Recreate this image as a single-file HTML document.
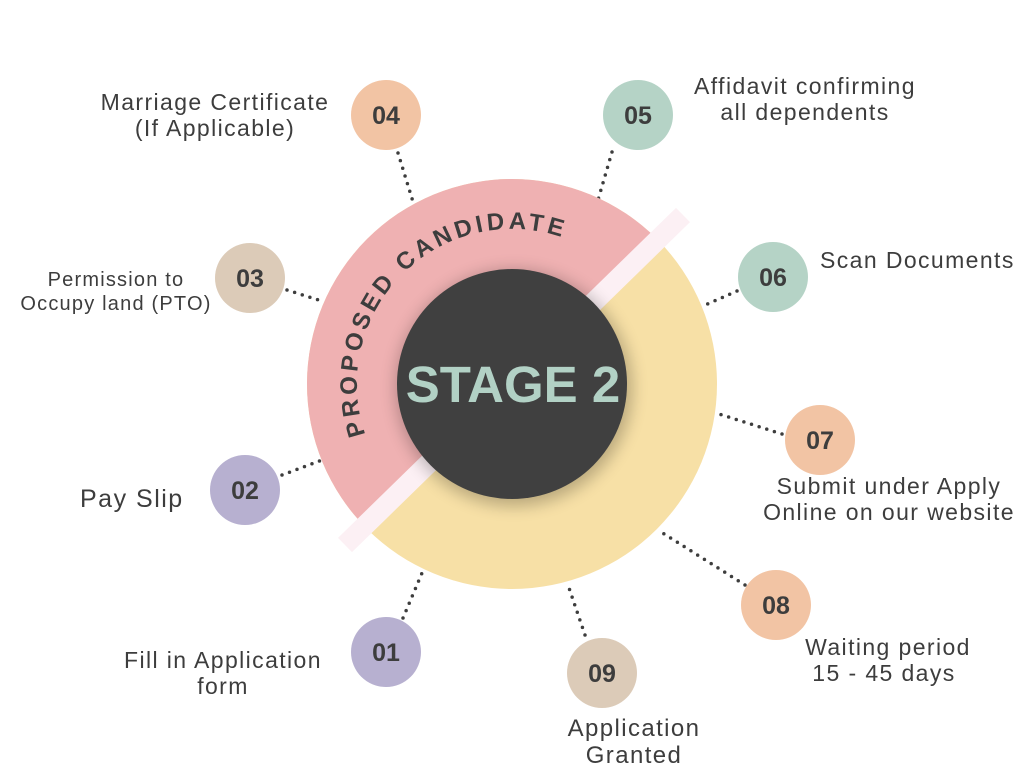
<!DOCTYPE html>
<html><head><meta charset="utf-8"><style>
html,body{margin:0;padding:0;background:#fff;}
svg{display:block}
text{font-family:"Liberation Sans",sans-serif;fill:#3d3d3d}
.n{font-weight:bold;font-size:25px;text-anchor:middle}
.l{font-size:23px;letter-spacing:1.4px}
</style></head><body>
<svg width="1024" height="768" viewBox="0 0 1024 768">
<defs>
<clipPath id="upl"><polygon points="0,0 900,0 -20,920"/></clipPath>
<filter id="sh" x="-30%" y="-30%" width="160%" height="160%"><feGaussianBlur stdDeviation="8"/></filter>
<path id="arc" d="M 365.4 434.5 A 155 155 0 0 1 565 238.3"/>
</defs>
<g stroke="#3d3d3d" stroke-width="3.5" stroke-linecap="round" stroke-dasharray="0 8" fill="none">
<line x1="398" y1="153" x2="414" y2="205"/>
<line x1="612" y1="152" x2="598" y2="200"/>
<line x1="287" y1="290" x2="325" y2="302"/>
<line x1="737" y1="291" x2="703" y2="306"/>
<line x1="282" y1="475" x2="322" y2="460"/>
<line x1="782" y1="434" x2="716" y2="413"/>
<line x1="403" y1="618" x2="422" y2="573"/>
<line x1="585" y1="635" x2="568" y2="585"/>
<line x1="745" y1="585" x2="658" y2="530"/>
</g>
<circle cx="512" cy="384" r="205" fill="#f7e0a6"/>
<g clip-path="url(#upl)"><circle cx="512" cy="384" r="205" fill="#efb1b2"/></g>
<line x1="345" y1="545" x2="683" y2="215" stroke="#fcf0f4" stroke-width="20"/>
<circle cx="514" cy="388" r="118" fill="#000" opacity="0.25" filter="url(#sh)"/>
<circle cx="512" cy="384" r="115" fill="#404040"/>
<text x="513" y="402" text-anchor="middle" style="font-weight:bold;font-size:51px;fill:#b2d1c5">STAGE 2</text>
<text style="font-weight:bold;font-size:24px"><textPath href="#arc" textLength="345" lengthAdjust="spacing">PROPOSED CANDIDATE</textPath></text>
<circle cx="386" cy="115" r="35" fill="#f2c4a4"/><text class="n" x="386" y="124">04</text>
<circle cx="638" cy="115" r="35" fill="#b5d3c6"/><text class="n" x="638" y="124">05</text>
<circle cx="250" cy="278" r="35" fill="#dccbb8"/><text class="n" x="250" y="287">03</text>
<circle cx="773" cy="277" r="35" fill="#b5d3c6"/><text class="n" x="773" y="286">06</text>
<circle cx="245" cy="490" r="35" fill="#b7b0d0"/><text class="n" x="245" y="499">02</text>
<circle cx="820" cy="440" r="35" fill="#f2c4a4"/><text class="n" x="820" y="449">07</text>
<circle cx="386" cy="652" r="35" fill="#b7b0d0"/><text class="n" x="386" y="661">01</text>
<circle cx="602" cy="673" r="35" fill="#dccbb8"/><text class="n" x="602" y="682">09</text>
<circle cx="776" cy="605" r="35" fill="#f2c4a4"/><text class="n" x="776" y="614">08</text>
<text class="l" text-anchor="middle" x="215" y="110">Marriage Certificate</text>
<text class="l" text-anchor="middle" x="215" y="136">(If Applicable)</text>
<text class="l" text-anchor="middle" x="805" y="94">Affidavit confirming</text>
<text class="l" text-anchor="middle" x="805" y="120">all dependents</text>
<text style="font-size:20px;letter-spacing:1.2px" text-anchor="middle" x="116" y="286">Permission to</text>
<text style="font-size:20px;letter-spacing:1.2px" text-anchor="middle" x="116" y="310">Occupy land (PTO)</text>
<text class="l" x="820" y="268">Scan Documents</text>
<text style="font-size:25px;letter-spacing:1.5px" x="80" y="507">Pay Slip</text>
<text class="l" text-anchor="middle" x="889" y="494">Submit under Apply</text>
<text class="l" text-anchor="middle" x="889" y="520">Online on our website</text>
<text class="l" text-anchor="middle" x="223" y="668">Fill in Application</text>
<text class="l" text-anchor="middle" x="223" y="694">form</text>
<text class="l" text-anchor="middle" x="888" y="655">Waiting period</text>
<text class="l" text-anchor="middle" x="884" y="681">15 - 45 days</text>
<text style="font-size:24px;letter-spacing:1.4px" text-anchor="middle" x="634" y="736">Application</text>
<text style="font-size:24px;letter-spacing:1.4px" text-anchor="middle" x="634" y="763">Granted</text>
</svg>
</body></html>
